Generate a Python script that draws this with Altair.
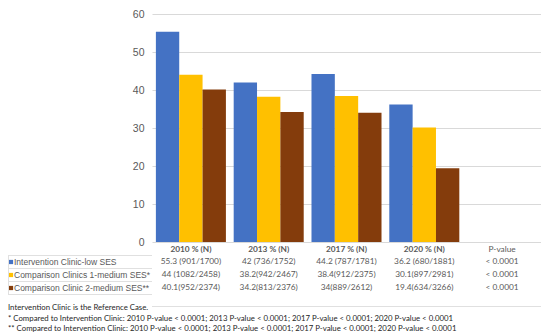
import altair as alt
import pandas as pd

categories = ["2010 % (N)", "2013 % (N)", "2017 % (N)", "2020 % (N)", "P-value"]
series = ["Intervention Clinic-low SES", "Comparison Clinics 1-medium SES*", "Comparison Clinic 2-medium SES**"]
colors = ["#4472C4", "#FFC000", "#843C0C"]

low_ses = [55.3, 42, 44.2, 36.2]
medium1 = [44, 38.2, 38.4, 30.1]
medium2 = [40.1, 34.2, 34, 19.4]

low_labels = ["55.3 (901/1700)", "42 (736/1752)", "44.2 (787/1781)", "36.2 (680/1881)", "< 0.0001"]
med1_labels = ["44 (1082/2458)", "38.2(942/2467)", "38.4(912/2375)", "30.1(897/2981)", "< 0.0001"]
med2_labels = ["40.1(952/2374)", "34.2(813/2376)", "34(889/2612)", "19.4(634/3266)", "< 0.0001"]

notes = [
    "Intervention Clinic is the Reference Case.",
    "*   Compared to Intervention Clinic: 2010 P-value < 0.0001;  2013 P-value < 0.0001;  2017 P-value < 0.0001; 2020 P-value < 0.0001",
    "** Compared to Intervention Clinic: 2010 P-value < 0.0001;  2013 P-value < 0.0001;  2017 P-value < 0.0001; 2020 P-value < 0.0001",
]

W, H = 389, 228
TOP = 6
GRAY = "#595959"
TABLE_FONT = "Lato"
LEG_FONT = "Liberation Sans"


def py(page_y):
    # page pixel row -> plot-area pixel row
    return page_y - 8 - TOP


rows = []
for s, vals in zip(series, [low_ses, medium1, medium2]):
    for c, v in zip(categories, vals):
        rows.append({"category": c, "series": s, "value": v})
bar_df = pd.DataFrame(rows)

x_scale = alt.Scale(domain=categories, paddingInner=0.1, paddingOuter=0.05)
x_enc = alt.X("category:N", scale=x_scale, axis=None, sort=categories)
color_enc = alt.Color("series:N", sort=series, scale=alt.Scale(domain=series, range=colors), legend=None)

bars = alt.Chart(bar_df).mark_bar().encode(
    x=x_enc,
    xOffset=alt.XOffset("series:N", sort=series, scale=alt.Scale(domain=series, paddingInner=0, paddingOuter=0)),
    y=alt.Y("value:Q", scale=alt.Scale(domain=[0, 60]),
            axis=alt.Axis(values=[0, 10, 20, 30, 40, 50, 60], title=None, domain=False, ticks=False,
                          grid=True, gridColor="#d9d9d9", gridWidth=1,
                          labelFont=LEG_FONT, labelFontSize=10.5, labelColor=GRAY, labelPadding=8)),
    color=color_enc,
)

layers = [bars]

# table header
layers.append(alt.Chart(pd.DataFrame({"category": categories[:-1]})).mark_text(
    font=TABLE_FONT, fontSize=8.3, fontWeight="bold", color=GRAY).encode(
    x=x_enc, y=alt.value(py(250)), text="category:N"))
layers.append(alt.Chart(pd.DataFrame({"category": categories[-1:]})).mark_text(
    font=TABLE_FONT, fontSize=8.3, color=GRAY).encode(x=x_enc, y=alt.value(py(250)), text="category:N"))

row_y = [py(262), py(275), py(288)]
for labels, yy in zip([low_labels, med1_labels, med2_labels], row_y):
    df = pd.DataFrame({"category": categories, "label": labels})
    layers.append(alt.Chart(df).mark_text(font=TABLE_FONT, fontSize=8.3, color=GRAY).encode(
        x=x_enc, y=alt.value(yy), text="label:N"))

# legend column
for s, yy in zip(series, row_y):
    df = pd.DataFrame({"series": [s]})
    layers.append(alt.Chart(df).mark_square(size=18, opacity=1).encode(
        x=alt.value(-141), y=alt.value(yy), color=color_enc))
    layers.append(alt.Chart(df).mark_text(font=LEG_FONT, fontSize=8.5, color=GRAY, align="left").encode(
        x=alt.value(-138), y=alt.value(yy), text="series:N"))

# table lines
line_color = "#e0e0e0"
for pyv in [255.5, 268.5, 281.5, 294.5]:
    layers.append(alt.Chart(pd.DataFrame({"k": [0]})).mark_rule(color=line_color, strokeWidth=1).encode(
        x=alt.value(-144), x2=alt.value(0), y=alt.value(py(pyv))))
layers.append(alt.Chart(pd.DataFrame({"k": [0]})).mark_rule(color=line_color, strokeWidth=1).encode(
    x=alt.value(-143.5), y=alt.value(py(255.5)), y2=alt.value(py(294.5))))
layers.append(alt.Chart(pd.DataFrame({"k": [0]})).mark_rule(color=line_color, strokeWidth=1).encode(
    x=alt.value(0), x2=alt.value(W), y=alt.value(py(306.5))))

# footnotes
for n, pyv in zip(notes, [308, 319, 328.5]):
    layers.append(alt.Chart(pd.DataFrame({"t": [n]})).mark_text(
        font=TABLE_FONT, fontSize=7.8, color="#262626", align="left").encode(
        x=alt.value(-144), y=alt.value(py(pyv)), text="t:N"))

chart = alt.layer(*layers).properties(
    width=W, height=H,
    padding={"left": 144, "top": TOP, "right": 0, "bottom": 326 - TOP - H},
    autosize=alt.AutoSizeParams(type="none"),
).configure_view(stroke=None)

chart.save("out.html", embed_options={"renderer": "svg", "actions": False})
